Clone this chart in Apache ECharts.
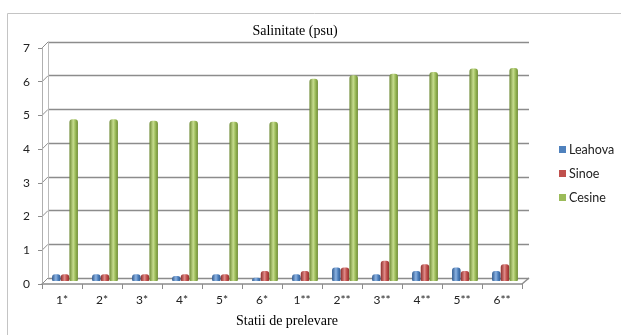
<!DOCTYPE html>
<html>
<head>
<meta charset="utf-8">
<script src="https://cdn.jsdelivr.net/npm/echarts@6/dist/echarts.min.js"></script>
<style>
  html, body { margin: 0; padding: 0; background: #fff; }
  #chart { width: 621px; height: 335px; }
</style>
</head>
<body>
<div id="chart"></div>
<script>
// Sampling stations
const categories = ['1*', '2*', '3*', '4*', '5*', '6*', '1**', '2**', '3**', '4**', '5**', '6**'];

// Salinity (psu) per site
const leahova = [0.2, 0.2, 0.2, 0.15, 0.2, 0.1, 0.2, 0.4, 0.2, 0.3, 0.4, 0.3];
const sinoe   = [0.2, 0.2, 0.2, 0.2, 0.2, 0.3, 0.3, 0.4, 0.6, 0.5, 0.3, 0.5];
const cesine  = [4.8, 4.8, 4.75, 4.75, 4.72, 4.72, 6.0, 6.1, 6.15, 6.2, 6.3, 6.32];

const seriesNames = ['Leahova', 'Sinoe', 'Cesine'];
const yTicks = [0, 1, 2, 3, 4, 5, 6, 7];

// Pseudo-3D layout: back wall, bar plane and front axis plane
const DEPTH = 6;
const back  = { left: 48, top: 42, width: 481, height: 236 };
const front = { left: back.left - DEPTH, top: back.top + DEPTH, width: 480, height: 236 };
const mid   = { left: back.left - DEPTH / 2, top: back.top + DEPTH / 2, width: 480, height: 236 };

const baseColors = ['#4F81BD', '#C0504D', '#9BBB59'];
const lightColors = ['#8DB3E2', '#E08A87', '#C6DC8E'];
const darkColors = ['#2F5A8F', '#8E2E2B', '#6E8B35'];

function cylinder(i) {
  return {
    type: 'linear', x: 0, y: 0, x2: 1, y2: 0,
    colorStops: [
      { offset: 0, color: darkColors[i] },
      { offset: 0.45, color: lightColors[i] },
      { offset: 0.7, color: baseColors[i] },
      { offset: 1, color: darkColors[i] }
    ]
  };
}

const seriesData = [leahova, sinoe, cesine];
const axisGray = '#8c8c8c';

const chart = echarts.init(document.getElementById('chart'), null, { renderer: 'canvas' });

const option = {
  animation: false,
  title: {
    text: 'Salinitate (psu)',
    left: 290, top: 19, textAlign: 'center',
    textStyle: { fontFamily: 'Liberation Serif', fontSize: 14, fontWeight: 'normal', color: '#000' }
  },
  legend: {
    orient: 'vertical',
    left: 554, top: 138,
    itemWidth: 7, itemHeight: 7, itemGap: 11,
    icon: 'rect',
    textStyle: { fontFamily: 'Lato', fontSize: 12.5, color: '#222', padding: [0, 0, 0, -2] },
    data: seriesNames.map((n, i) => ({ name: n, itemStyle: { color: baseColors[i] } }))
  },
  grid: [
    Object.assign({}, back),
    Object.assign({}, front),
    Object.assign({}, mid)
  ],
  xAxis: [
    { type: 'category', gridIndex: 0, data: categories, show: false },
    {
      type: 'category', gridIndex: 1, data: categories,
      axisLine: { lineStyle: { color: axisGray, width: 1.5 } },
      axisTick: { show: true, length: 5, lineStyle: { color: axisGray } },
      axisLabel: { color: '#222', fontFamily: 'Lato', fontSize: 12, margin: 10 },
      name: 'Statii de prelevare',
      nameLocation: 'middle', nameGap: 30,
      nameTextStyle: { fontFamily: 'Liberation Serif', fontSize: 14, color: '#000', padding: [0, 0, 0, 10] }
    },
    { type: 'category', gridIndex: 2, data: categories, show: false }
  ],
  yAxis: [
    {
      type: 'value', gridIndex: 0, min: 0, max: 7, interval: 1,
      axisLabel: { show: false }, axisTick: { show: false },
      axisLine: { show: true, lineStyle: { color: '#bbb' } },
      splitLine: { show: true, lineStyle: { color: axisGray, width: 1.3 } }
    },
    {
      type: 'value', gridIndex: 1, min: 0, max: 7, interval: 1,
      axisLabel: { color: '#222', fontFamily: 'Lato', fontSize: 12, margin: 12,
        formatter: v => yTicks.indexOf(v) >= 0 ? String(v) : '' },
      axisTick: { show: true, length: 4, lineStyle: { color: axisGray } },
      axisLine: { show: true, lineStyle: { color: '#b0b0b0' } },
      splitLine: { show: false }
    },
    { type: 'value', gridIndex: 2, min: 0, max: 7, interval: 1, show: false, splitLine: { show: false } }
  ],
  series: seriesNames.map((name, i) => ({
    name: name,
    type: 'bar',
    xAxisIndex: 2, yAxisIndex: 2,
    data: seriesData[i],
    barWidth: 8.5,
    barGap: '2%',
    itemStyle: { color: cylinder(i), borderRadius: [3, 3, 1, 1] }
  })),
  graphic: []
};

chart.setOption(option);

// Wall and floor edges joining the front axes to the back wall
const g = [];
g.push({ type: 'rect', shape: { x: 7.5, y: 13.5, width: 700, height: 400 },
  style: { fill: 'none', stroke: '#c4c4c4', lineWidth: 1 }, z: -1, silent: true });
yTicks.forEach(v => {
  const yb = chart.convertToPixel({ yAxisIndex: 0 }, v);
  const yf = chart.convertToPixel({ yAxisIndex: 1 }, v);
  g.push({ type: 'line', shape: { x1: front.left, y1: yf, x2: back.left, y2: yb },
    style: { stroke: axisGray, lineWidth: 1 }, silent: true });
});
const yb0 = chart.convertToPixel({ yAxisIndex: 0 }, 0);
const yf0 = chart.convertToPixel({ yAxisIndex: 1 }, 0);
g.push({ type: 'line',
  shape: { x1: front.left + front.width, y1: yf0, x2: back.left + back.width, y2: yb0 },
  style: { stroke: axisGray, lineWidth: 1.5 }, silent: true });
chart.setOption({ graphic: g });
</script>
</body>
</html>
